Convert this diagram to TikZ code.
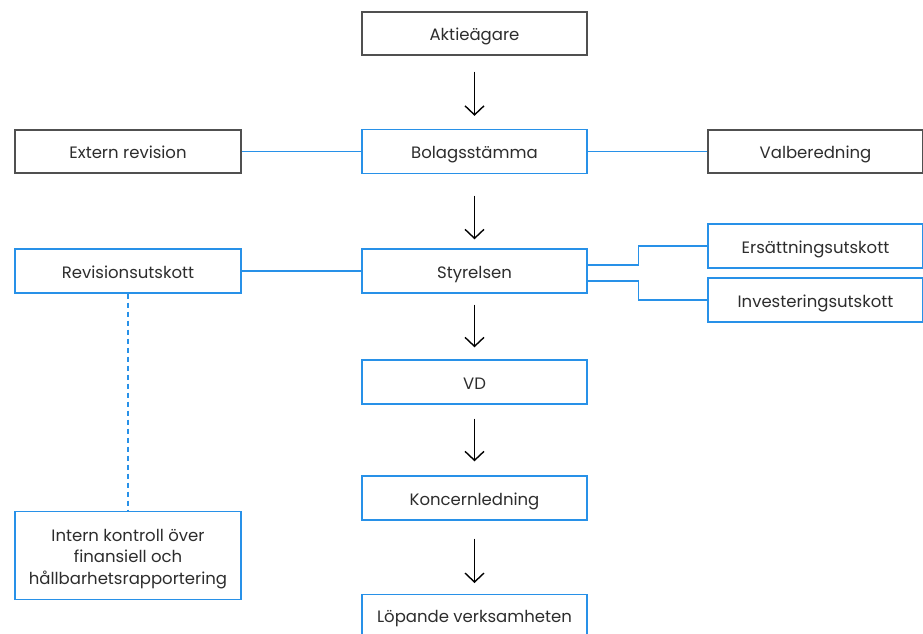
\documentclass[tikz,border=0pt]{standalone}
\usepackage{fontspec}
\setmainfont{Poppins}
\usetikzlibrary{arrows.meta}
\definecolor{bluebox}{RGB}{40,145,232}
\definecolor{graybox}{RGB}{80,80,80}
\definecolor{txt}{RGB}{45,45,45}
\begin{document}
\begin{tikzpicture}[x=1pt,y=-1pt,
  lbl/.style={text=txt, font=\fontsize{16.5}{21.7}\selectfont, align=center},
  oneline/.style={text height=18pt, text depth=3.8pt},
  box/.style={draw=#1, line width=1.4pt, rectangle, inner sep=0pt, lbl},
  box/.default=bluebox,
  flow/.style={-{Straight Barb[length=9pt,width=19pt,line width=1.4pt]}, line width=1.4pt, black},
  link/.style={bluebox, line width=1.4pt}]
\clip (0,0) rectangle (923,633);
\fill[white] (0,0) rectangle (923,633);
% main column
\node[box=graybox, oneline, minimum width=225pt, minimum height=43pt] (aktie) at (474.5,33.5) {Aktieägare};
\node[box, oneline, minimum width=225pt, minimum height=44pt] (bolag) at (474.5,151.5) {Bolagsstämma};
\node[box, oneline, minimum width=225pt, minimum height=44pt] (styr) at (474.5,271) {Styrelsen};
\node[box, oneline, minimum width=225pt, minimum height=44pt] (vd) at (474.5,382) {VD};
\node[box, oneline, minimum width=225pt, minimum height=44pt] (konc) at (474.5,498) {Koncernledning};
\node[box, minimum width=225pt, minimum height=50pt, anchor=north] (lop) at (474.5,594) {};
\node[lbl, oneline] (loptxt) at (474.5,615.7) {Löpande verksamheten};
% left column
\node[box=graybox, oneline, minimum width=226pt, minimum height=43pt] (ext) at (128,151.5) {Extern revision};
\node[box, oneline, minimum width=226pt, minimum height=44pt] (rev) at (128,271) {Revisionsutskott};
\node[box, minimum width=226pt, minimum height=88pt] (intern) at (128,555.5) {};
\node[lbl] (interntxt) at (128,559) {Intern kontroll över\\finansiell och\\hållbarhetsrapportering};
% right column
\node[box=graybox, oneline, minimum width=215pt, minimum height=43pt] (val) at (815.5,151.5) {Valberedning};
\node[box, oneline, minimum width=215pt, minimum height=44pt] (ers) at (815.5,246) {Ersättningsutskott};
\node[box, oneline, minimum width=215pt, minimum height=44pt] (inv) at (815.5,300) {Investeringsutskott};
% arrows
\draw[flow] ([yshift=-16pt]aktie.south) -- ([yshift=13pt]bolag.north);
\draw[flow] ([yshift=-21.5pt]bolag.south) -- ([yshift=9pt]styr.north);
\draw[flow] ([yshift=-11pt]styr.south) -- ([yshift=12pt]vd.north);
\draw[flow] ([yshift=-14pt]vd.south) -- ([yshift=14pt]konc.north);
\draw[flow] ([yshift=-18pt]konc.south) -- ([yshift=11pt]lop.north);
% links
\draw[link] (ext.east) -- (bolag.west);
\draw[link] (bolag.east) -- (val.west);
\draw[link] (rev.east) -- (styr.west);
\draw[link] ([yshift=6pt]styr.east) -- ++(51,0) |- (ers.west);
\draw[link] ([yshift=-10pt]styr.east) -- ++(51,0) |- (inv.west);
\draw[link, dash pattern=on 5pt off 4pt] (rev.south) -- (intern.north);
\end{tikzpicture}
\end{document}
